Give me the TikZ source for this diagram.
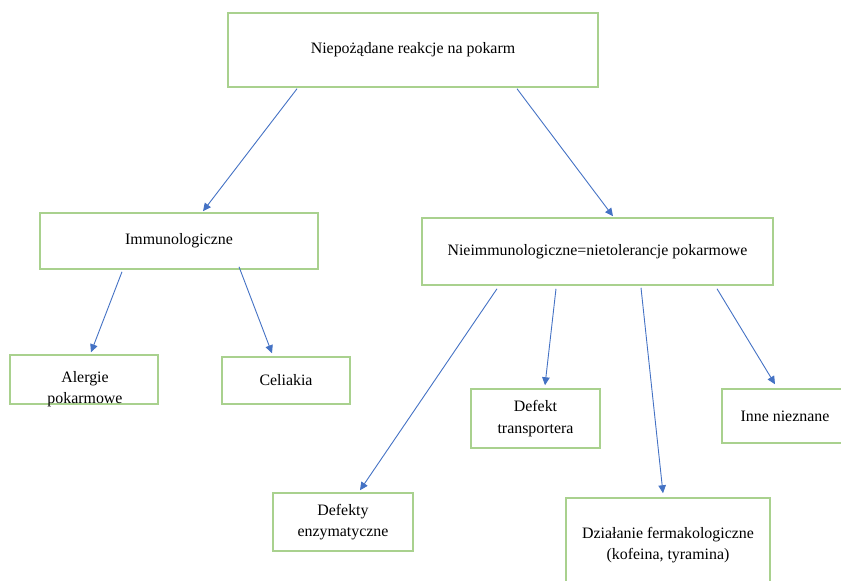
\documentclass[tikz,border=0pt]{standalone}
\usepackage{fontspec}
\setmainfont{Liberation Serif}
\usetikzlibrary{arrows.meta,calc}
\definecolor{boxgreen}{HTML}{A9D18E}
\definecolor{arrblue}{HTML}{4472C4}
\tikzset{
  box/.style={draw=boxgreen, line width=1.5pt, rectangle, inner sep=0pt, align=center},
  txt/.style={inner sep=0pt, align=center},
  arr/.style={draw=arrblue, line width=0.9pt, -{Triangle[length=8pt,width=7.5pt]}},
}
\begin{document}
\begin{tikzpicture}[x=1pt,y=-1pt, font=\fontsize{15.9}{21.5}\selectfont]
\useasboundingbox (0,0) rectangle (841,581);
\clip (0,0) rectangle (841,581);
\node[box, minimum width=370, minimum height=74] (top) at (413,50) {\raisebox{-3pt}{Niepożądane reakcje na pokarm}};
\node[box, minimum width=278, minimum height=56] (imm) at (179,241) {Immunologiczne};
\node[box, minimum width=351, minimum height=67] (nie) at (597.5,251.5) {Nieimmunologiczne=nietolerancje pokarmowe};
\node[box, minimum width=148, minimum height=49] (ale) at (84,379.5) {};
\node[txt] (aletxt) at (85,389) {Alergie\\pokarmowe};
\node[box, minimum width=128, minimum height=47] (cel) at (286,380.5) {Celiakia};
\node[box, minimum width=140, minimum height=58] (def) at (343,522) {Defekty\\enzymatyczne};
\node[box, minimum width=129, minimum height=59] (tra) at (535.5,418.5) {Defekt\\transportera};
\node[box, minimum width=126, minimum height=54] (inn) at (785,416) {Inne nieznane};
\node[box, minimum width=204, minimum height=122] (dzi) at (668,559) {};
\node[txt] (dzitxt) at (668,545) {Działanie fermakologiczne\\(kofeina, tyramina)};
\draw[arr] ($(top.south)+(-116,1)$) -- ($(imm.north)+(24,-1)$);
\draw[arr] ($(top.south)+(104,1)$) -- ($(nie.north)+(15.5,-1)$);
\draw[arr] ($(imm.south)+(-57,2)$) -- ($(ale.north)+(7,-2)$);
\draw[arr] ($(imm.south)+(60,-3)$) -- ($(cel.north)+(-14,-3)$);
\draw[arr] ($(nie.south)+(-100.5,3)$) -- ($(def.north)+(17,-2)$);
\draw[arr] ($(nie.south)+(-41.5,3)$) -- ($(tra.north)+(9.5,-3)$);
\draw[arr] ($(nie.south)+(43.5,2)$) -- ($(dzi.north)+(-5,-4)$);
\draw[arr] ($(nie.south)+(119.5,3)$) -- ($(inn.north)+(-10,-4)$);
\end{tikzpicture}
\end{document}
